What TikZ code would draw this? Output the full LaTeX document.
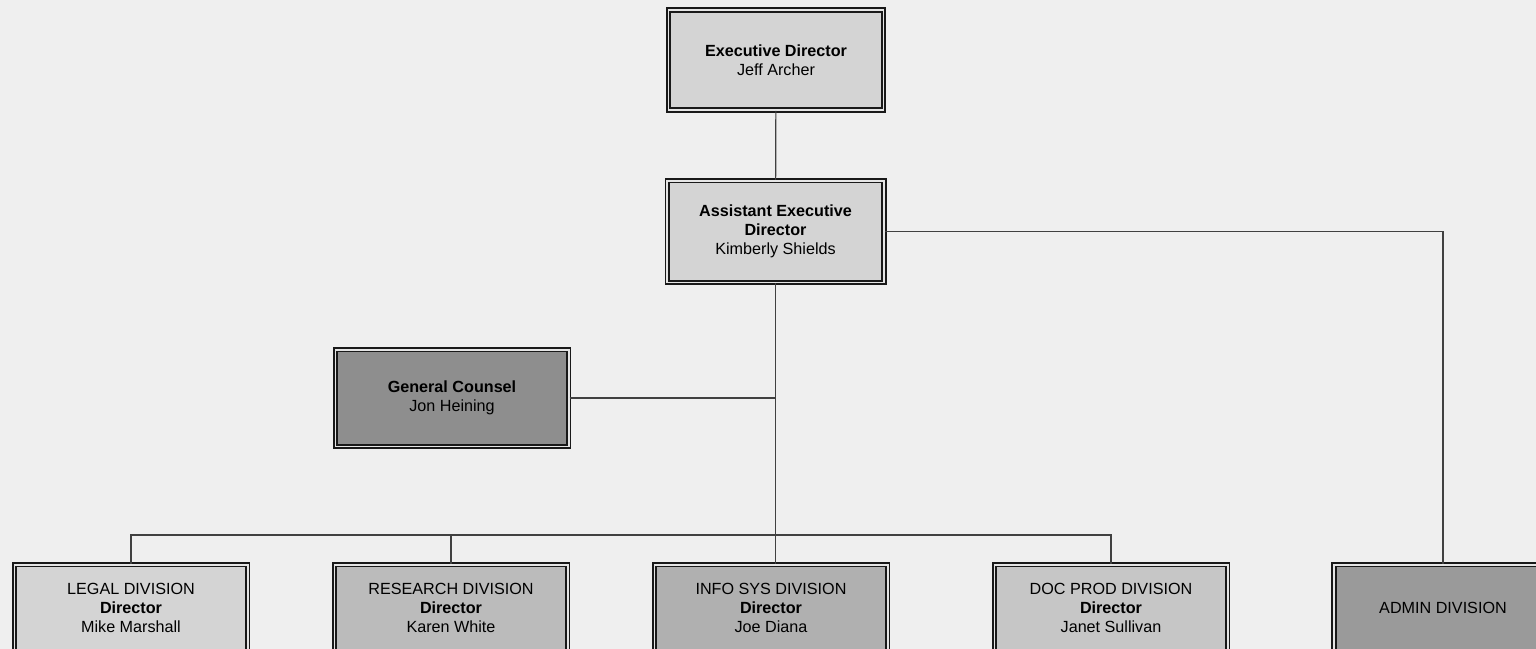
\documentclass[tikz,border=0pt]{standalone}
\usepackage{fontspec}
\setmainfont{Liberation Sans}
\usetikzlibrary{positioning,calc}
\definecolor{paper}{HTML}{EFEFEF}
\definecolor{pale}{HTML}{D4D4D4}
\definecolor{soft}{HTML}{C6C6C6}
\definecolor{mid}{HTML}{BBBBBB}
\definecolor{deep}{HTML}{B0B0B0}
\definecolor{dark}{HTML}{8E8E8E}
\definecolor{darkish}{HTML}{9A9A9A}

\begin{document}
\begin{tikzpicture}
[x=0.6pt,y=-0.6pt,
every node/.style={draw=black!90,double=black!10,line width=1.1pt,double distance=1pt,align=center,inner sep=0pt,font=\fontsize{9.7}{11.4}\selectfont},
upper/.style={minimum width=129pt,minimum height=60pt},
side/.style={minimum width=140pt,minimum height=58pt},
division/.style={minimum width=140pt,minimum height=52pt},
link/.style={draw=black!75,line width=.7pt}]
\path[use as bounding box,fill=paper] (0,0) rectangle (1536,649);
\clip (0,0) rectangle (1536,649);

\node[upper,fill=pale] (ed) at (776,60) {\textbf{Executive Director}\\Jeff Archer};
\node[upper,fill=pale,minimum width=130pt,minimum height=61pt] (aed) at (775.5,231.5) {\textbf{Assistant Executive}\\\textbf{Director}\\Kimberly Shields};
\node[side,fill=dark] (gc) at (452,398) {\textbf{General Counsel}\\Jon Heining};
\node[division,fill=pale] (legal) at (131,608) {LEGAL DIVISION\\\textbf{Director}\\Mike Marshall};
\node[division,fill=mid] (research) at (451,608) {RESEARCH DIVISION\\\textbf{Director}\\Karen White};
\node[division,fill=deep] (infosys) at (771,608) {INFO SYS DIVISION\\\textbf{Director}\\Joe Diana};
\node[division,fill=soft] (docprod) at (1111,608) {DOC PROD DIVISION\\\textbf{Director}\\Janet Sullivan};
\node[division,fill=darkish,minimum width=131pt] (admin) at (1443,608) {ADMIN DIVISION};
\coordinate (bus) at (776,535);

\draw[link] (ed) -- (aed);
\draw[link] (aed) -- (aed |- infosys.north);
\draw[link] (gc) -- (gc -| aed);
\draw[link] (legal) -- (legal |- bus) -- (docprod |- bus) -- (docprod);
\draw[link] (research) -- (research |- bus);
\draw[link] (aed) -- (aed -| admin) -- (admin);
\end{tikzpicture}
\end{document}
